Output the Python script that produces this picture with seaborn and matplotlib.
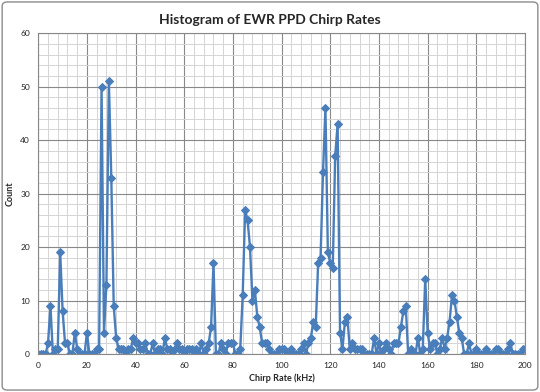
"""
Histogram of EWR PPD Chirp Rates (Excel-style line chart)
"""
import numpy as np
import pandas as pd
import matplotlib
matplotlib.use("Agg")
import matplotlib.pyplot as plt
from matplotlib.patches import FancyBboxPatch
from matplotlib.ticker import MultipleLocator
import seaborn as sns

# chirp rate bins (kHz) and counts
chirp_khz = list(range(0, 201))
counts = [
    0, 0, 0, 0, 2, 9, 0, 1, 1, 19,       # 0-9
    8, 2, 2, 0, 0, 4, 1, 0, 0, 0,        # 10-19
    4, 0, 0, 0, 1, 1, 50, 4, 13, 51,     # 20-29
    33, 9, 3, 1, 1, 1, 0, 1, 1, 3,       # 30-39
    2, 2, 1, 1, 2, 0, 0, 2, 0, 1,        # 40-49
    1, 0, 3, 1, 1, 0, 1, 2, 1, 1,        # 50-59
    0, 1, 1, 1, 0, 1, 0, 2, 0, 1,        # 60-69
    2, 5, 17, 0, 0, 2, 1, 0, 2, 2,       # 70-79
    2, 0, 0, 1, 11, 27, 25, 20, 10, 12,  # 80-89
    7, 5, 2, 2, 2, 1, 0, 0, 0, 1,        # 90-99
    1, 1, 0, 0, 1, 0, 0, 0, 1, 2,        # 100-109
    0, 2, 3, 6, 5, 17, 18, 34, 46, 19,   # 110-119
    17, 16, 37, 43, 4, 1, 6, 7, 1, 2,    # 120-129
    1, 1, 1, 1, 0, 0, 0, 0, 3, 0,        # 130-139
    2, 0, 1, 2, 1, 0, 2, 2, 2, 5,        # 140-149
    8, 9, 0, 1, 0, 0, 3, 0, 1, 14,       # 150-159
    4, 1, 2, 2, 0, 1, 3, 1, 3, 6,        # 160-169
    11, 10, 7, 4, 3, 0, 0, 2, 0, 0,      # 170-179
    1, 0, 0, 0, 1, 0, 0, 0, 1, 1,        # 180-189
    0, 0, 0, 1, 2, 0, 0, 0, 0, 1,        # 190-199
    1,                                   # 200
]

df = pd.DataFrame({"Chirp Rate (kHz)": chirp_khz, "Count": counts})

sns.set_style("white")
plt.rcParams["font.family"] = ["Lato", "DejaVu Sans"]

fig = plt.figure(figsize=(5.4, 3.92), dpi=100)
ax = fig.add_axes([0.0709, 0.0969, 0.9013, 0.8184])

sns.lineplot(data=df, x="Chirp Rate (kHz)", y="Count", ax=ax,
             color="#4a7ebb", linewidth=1.7, marker="D", markersize=3.6,
             markeredgecolor="#4a7ebb", markerfacecolor="#4a7ebb")

ax.set_xlim(0, 200)
ax.set_ylim(0, 60)
ax.xaxis.set_major_locator(MultipleLocator(20))
ax.xaxis.set_minor_locator(MultipleLocator(4))
ax.yaxis.set_major_locator(MultipleLocator(10))
ax.yaxis.set_minor_locator(MultipleLocator(2))
ax.grid(which="major", color="#888888", linewidth=0.8)
ax.grid(which="minor", color="#d4d4d4", linewidth=0.7)
ax.set_axisbelow(True)

for s in ax.spines.values():
    s.set_color("#888888")
    s.set_linewidth(0.8)

ax.tick_params(which="major", length=3, width=0.8, color="#888888",
               labelsize=6, labelcolor="#222222", pad=3)
ax.tick_params(which="minor", length=0)

ax.set_xlabel("Chirp Rate (kHz)", fontsize=6.5, fontweight="bold", labelpad=3)
ax.set_ylabel("Count", fontsize=6.5, fontweight="bold", labelpad=4)

fig.suptitle("Histogram of EWR PPD Chirp Rates", fontsize=10,
             fontweight="bold", y=0.965)

# chart area border
fig.patches.append(FancyBboxPatch((0.004, 0.005), 0.992, 0.99,
                                  boxstyle="round,pad=0,rounding_size=0.01",
                                  transform=fig.transFigure, fill=False,
                                  edgecolor="#8c8c8c", linewidth=1.0))

fig.savefig("out.png", dpi=100)
